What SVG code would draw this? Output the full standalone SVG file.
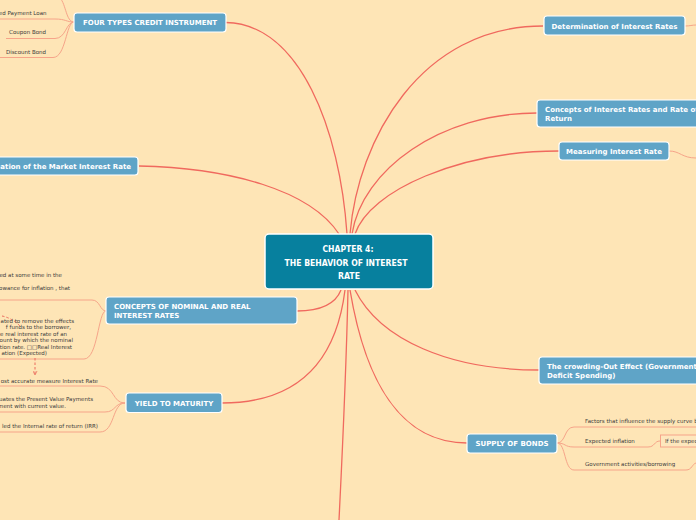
<svg xmlns="http://www.w3.org/2000/svg" width="696" height="520" viewBox="0 0 696 520">
<defs>
<style>
.main rect{fill:#5fa4c7;stroke:#ffffff;stroke-width:1.2}
.mt{fill:#ffffff;font-family:"DejaVu Sans",Verdana,sans-serif;font-weight:bold;font-size:7px}
.st{fill:#3b3b3b;font-family:"DejaVu Sans",Verdana,sans-serif;font-size:5.5px}
.c{fill:none;stroke:#f0695e;stroke-width:1.3}
.s{fill:none;stroke:#f6a489;stroke-width:1}
.d{fill:none;stroke:#ea6a5c;stroke-width:1;stroke-dasharray:2.5 2}
.ct{fill:#ffffff;font-family:"DejaVu Sans Condensed","DejaVu Sans",sans-serif;font-weight:bold;font-size:9px}
</style>
<marker id="ah" viewBox="0 0 10 10" refX="9" refY="5" markerWidth="5" markerHeight="5" orient="auto">
<path d="M1,1 L9,5 L1,9" fill="none" stroke="#ea6a5c" stroke-width="1.5"/>
</marker>
</defs>
<rect x="0" y="0" width="696" height="520" fill="#fee5b6"/>

<g id="connectors">
<path class="c" d="M226,22.5 C300,24 340,130 347,234"/>
<path class="c" d="M139,166 C230,168 310,190 339,234"/>
<path class="c" d="M350,234 C358,140 420,26 543,26"/>
<path class="c" d="M352,234 C362,170 440,113 537,113"/>
<path class="c" d="M355,234 C370,190 460,151 559,151"/>
<path class="c" d="M341,290 C335,305 320,311 297,311"/>
<path class="c" d="M345,290 C335,370 290,403 222,403"/>
<path class="c" d="M348,290 C346,380 342,460 339,520"/>
<path class="c" d="M355,290 C380,340 450,370 539,370"/>
<path class="c" d="M350,290 C365,380 400,443 467,443"/>
<path class="s" d="M685,26 C690,26 692,25 696,25"/>
<path class="s" d="M669,151 C680,151 682,158 696,158"/>
<!-- four types subs -->
<path class="s" d="M74,22 C66,22 66,4 60,-2"/>
<path class="s" d="M0,19 H55 C66,19 66,22 74,22"/>
<path class="s" d="M6,38.5 H55 C66,38.5 66,22 74,22"/>
<path class="s" d="M0,57.5 H53 C66,57.5 66,22 74,22"/>
<!-- nominal/real subs -->
<path class="s" d="M0,300 H92 C100,300 100,311 106,311"/>
<path class="s" d="M0,359 H84 C98,359 98,311 106,311"/>
<!-- yield subs -->
<path class="s" d="M0,386 H100 C115,386 112,403 125,403"/>
<path class="s" d="M0,412 H105 C116,412 114,403 125,403"/>
<path class="s" d="M0,432 H100 C115,432 112,403 125,403"/>
<!-- supply subs -->
<path class="s" d="M557,443 C566,443 564,427 574,427 H696"/>
<path class="s" d="M557,443 C566,443 564,447 574,447 H648 C655,447 654,441 660,441"/>
<path class="s" d="M557,443 C566,443 564,470 574,470 H686 C692,470 692,464 696,463"/>
<!-- relationship marks -->
<path class="d" d="M2,316 Q12,318 20,326"/>
<path class="d" d="M35,358 L35,375" marker-end="url(#ah)"/>
</g>

<g id="center">
<rect x="265" y="234" width="168" height="55" rx="4" fill="#07809e" stroke="#ffffff" stroke-width="1.5"/>
<text class="ct" x="348" y="252" text-anchor="middle" textLength="51" lengthAdjust="spacingAndGlyphs">CHAPTER 4:</text>
<text class="ct" x="346" y="265.5" text-anchor="middle" textLength="123" lengthAdjust="spacingAndGlyphs">THE BEHAVIOR OF INTEREST</text>
<text class="ct" x="349" y="279" text-anchor="middle" textLength="22" lengthAdjust="spacingAndGlyphs">RATE</text>
</g>

<g id="four-types" class="main">
<rect x="74" y="13" width="152" height="19" rx="3"/>
<text class="mt" x="150" y="25" text-anchor="middle">FOUR TYPES CREDIT INSTRUMENT</text>
</g>
<g id="four-types-subs">
<text class="st" x="46.5" y="15" text-anchor="end">ed Payment Loan</text>
<text class="st" x="46" y="34" text-anchor="end">Coupon Bond</text>
<text class="st" x="46" y="54" text-anchor="end">Discount Bond</text>
</g>

<g id="determination" class="main">
<rect x="544" y="16" width="141" height="19" rx="3"/>
<text class="mt" x="614.5" y="28.5" text-anchor="middle">Determination of Interest Rates</text>
</g>

<g id="concepts-return" class="main">
<rect x="537" y="100" width="170" height="27" rx="3"/>
<text class="mt" x="545" y="111.5">Concepts of Interest Rates and Rate of</text>
<text class="mt" x="545" y="120.5">Return</text>
</g>

<g id="measuring" class="main">
<rect x="559" y="142" width="110" height="18" rx="3"/>
<text class="mt" x="614" y="153.5" text-anchor="middle">Measuring Interest Rate</text>
</g>

<g id="market" class="main">
<rect x="-60" y="157" width="198" height="18" rx="3"/>
<text class="mt" x="131" y="168.5" text-anchor="end">Determination of the Market Interest Rate</text>
</g>

<g id="nominal-real" class="main">
<rect x="106" y="297" width="191" height="27" rx="3"/>
<text class="mt" x="114" y="309">CONCEPTS OF NOMINAL AND REAL</text>
<text class="mt" x="114" y="317.5">INTEREST RATES</text>
</g>
<g id="nominal-real-subs">
<text class="st" x="62" y="277" text-anchor="end">ed at some time in the</text>
<text class="st" x="70" y="290" text-anchor="end">owance for inflation , that</text>
<text class="st" x="74" y="323" text-anchor="end">ated to remove the effects</text>
<text class="st" x="71" y="329" text-anchor="end">f funds to the borrower,</text>
<text class="st" x="67" y="335.5" text-anchor="end">e real interest rate of an</text>
<text class="st" x="73" y="342" text-anchor="end">ount by which the nominal</text>
<text class="st" x="72" y="348.5" text-anchor="end">ation rate. □□Real Interest</text>
<text class="st" x="47" y="355" text-anchor="end">ation (Expected)</text>
</g>

<g id="yield" class="main">
<rect x="126" y="393" width="96" height="19.5" rx="3"/>
<text class="mt" x="174" y="405.5" text-anchor="middle">YIELD TO MATURITY</text>
</g>
<g id="yield-subs">
<text class="st" x="98" y="382.5" text-anchor="end">ost accurate measure Interest Rate</text>
<text class="st" x="93" y="401" text-anchor="end">uates the Present Value Payments</text>
<text class="st" x="66" y="408" text-anchor="end">ment with current value.</text>
<text class="st" x="98" y="428" text-anchor="end">led the Internal rate of return (IRR)</text>
</g>

<g id="crowding" class="main">
<rect x="539" y="357" width="170" height="27" rx="3"/>
<text class="mt" x="547" y="369">The crowding-Out Effect (Government</text>
<text class="mt" x="547" y="377.5">Deficit Spending)</text>
</g>

<g id="supply" class="main">
<rect x="467" y="434" width="90" height="19" rx="3"/>
<text class="mt" x="512" y="446" text-anchor="middle">SUPPLY OF BONDS</text>
</g>
<g id="supply-subs">
<text class="st" x="585" y="423">Factors that influence the supply curve b</text>
<text class="st" x="585" y="443">Expected inflation</text>
<text class="st" x="585" y="466">Government activities/borrowing</text>
<rect x="660.5" y="435" width="50" height="12" fill="#fee7bd" stroke="#f6a489" stroke-width="1"/>
<text class="st" x="665" y="443">If the expec</text>
</g>
</svg>
